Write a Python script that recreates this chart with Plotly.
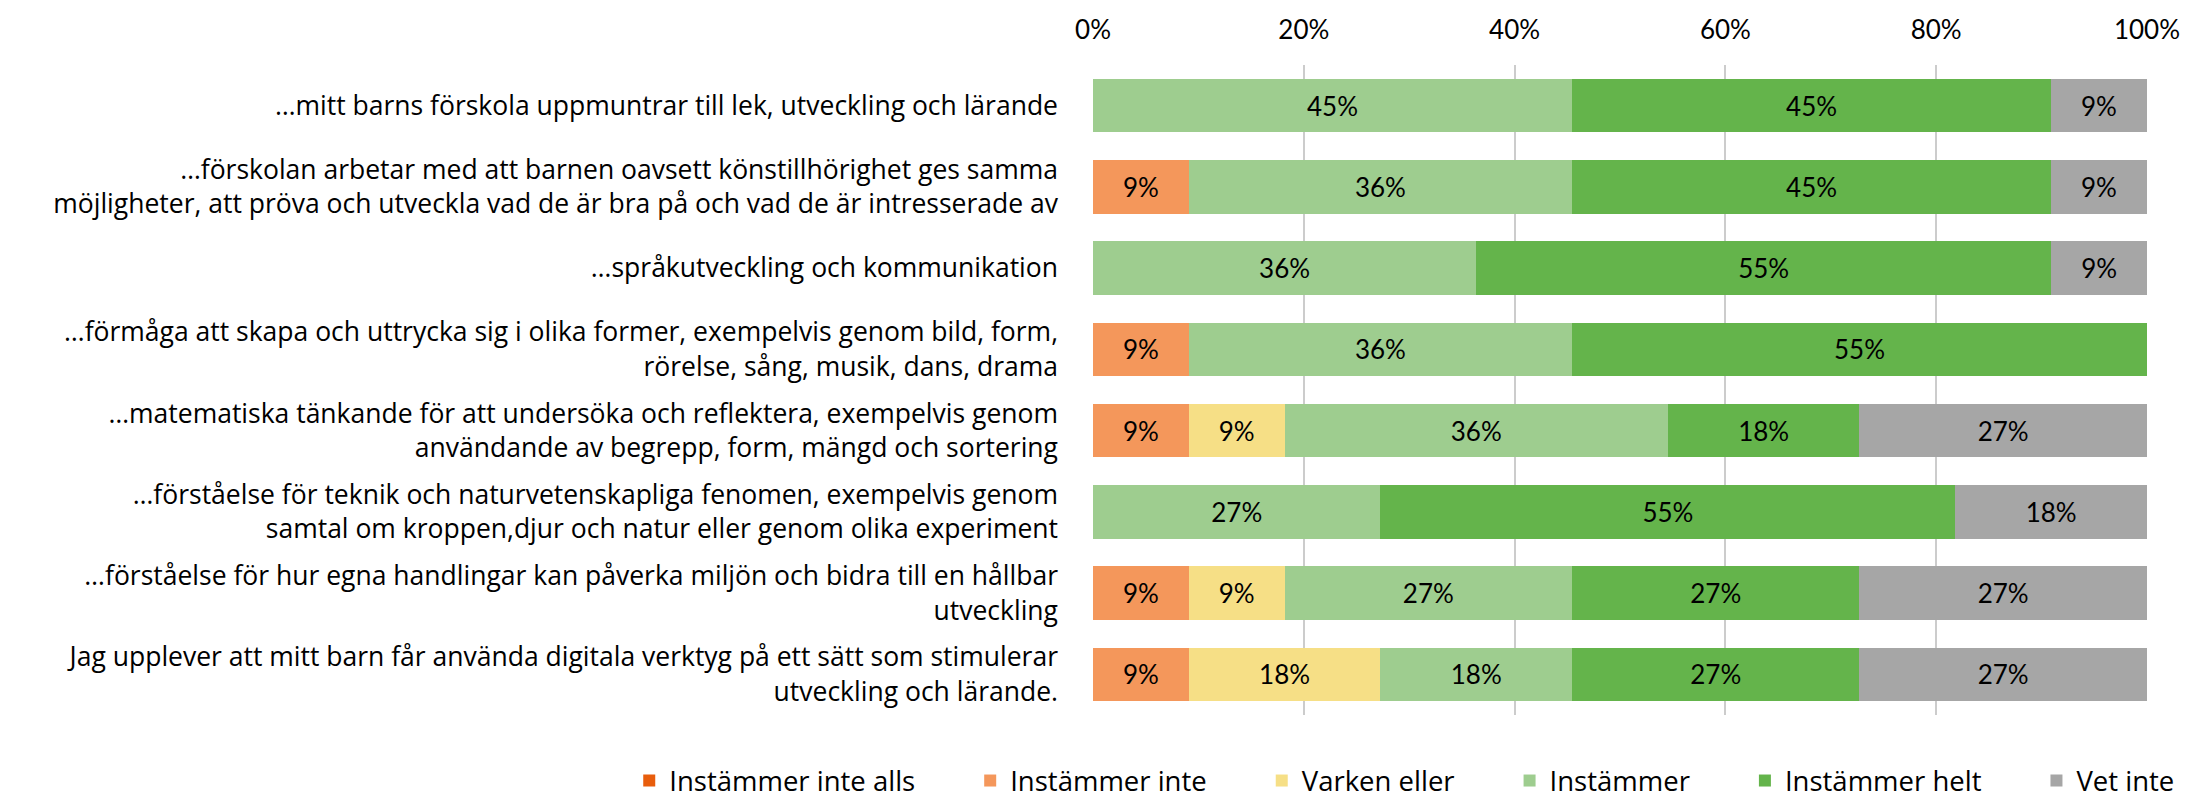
import plotly.graph_objects as go

categories = [
    "…mitt barns förskola uppmuntrar till lek, utveckling och lärande",
    "…förskolan arbetar med att barnen oavsett könstillhörighet ges samma<br>möjligheter, att pröva och utveckla vad de är bra på och vad de är intresserade av",
    "…språkutveckling och kommunikation",
    "…förmåga att skapa och uttrycka sig i olika former, exempelvis genom bild, form,<br>rörelse, sång, musik, dans, drama",
    "…matematiska tänkande för att undersöka och reflektera, exempelvis genom<br>användande av begrepp, form, mängd och sortering",
    "…förståelse för teknik och naturvetenskapliga fenomen, exempelvis genom<br>samtal om kroppen,djur och natur eller genom olika experiment",
    "…förståelse för hur egna handlingar kan påverka miljön och bidra till en hållbar<br>utveckling",
    "Jag upplever att mitt barn får använda digitala verktyg på ett sätt som stimulerar<br>utveckling och lärande.",
]

instammer_inte_alls = [0, 0, 0, 0, 0, 0, 0, 0]
instammer_inte = [0, 9.09, 0, 9.09, 9.09, 0, 9.09, 9.09]
varken_eller = [0, 0, 0, 0, 9.09, 0, 9.09, 18.18]
instammer = [45.45, 36.36, 36.36, 36.36, 36.36, 27.27, 27.27, 18.18]
instammer_helt = [45.45, 45.45, 54.55, 54.55, 18.18, 54.55, 27.27, 27.27]
vet_inte = [9.09, 9.09, 9.09, 0, 27.27, 18.18, 27.27, 27.27]

series = [
    ("Instämmer inte alls", instammer_inte_alls, "#E85D0C"),
    ("Instämmer inte", instammer_inte, "#F4975B"),
    ("Varken eller", varken_eller, "#F6DF86"),
    ("Instämmer", instammer, "#9ECD8F"),
    ("Instämmer helt", instammer_helt, "#64B44B"),
    ("Vet inte", vet_inte, "#A6A6A6"),
]

tick_vals = [0, 20, 40, 60, 80, 100]
tick_text = ["0%", "20%", "40%", "60%", "80%", "100%"]

NUMFONT = "Lato"
TXTFONT = "Open Sans"
PAD = "\u00a0" * 7

fig = go.Figure()
for i, (name, vals, color) in enumerate(series):
    fig.add_trace(go.Bar(
        y=categories, x=vals, name=name + (PAD if i < len(series) - 1 else ""),
        orientation="h",
        marker=dict(color=color, line=dict(width=0)),
        text=[f"{round(v)}%" if v > 0 else "" for v in vals],
        textposition="inside", insidetextanchor="middle",
        textfont=dict(color="black", size=26, family=NUMFONT),
        textangle=0,
    ))

fig.update_layout(
    barmode="stack", bargap=0.34,
    width=2200, height=804,
    margin=dict(l=1093, r=53, t=65, b=89, autoexpand=False),
    paper_bgcolor="white", plot_bgcolor="white",
    font=dict(family=TXTFONT, size=26, color="black"),
    uniformtext=dict(mode="show", minsize=20),
    xaxis=dict(side="top", range=[0, 100], tickvals=tick_vals, ticktext=tick_text,
               showgrid=True, gridcolor="#CCCCCC", gridwidth=1.5, zeroline=False,
               showline=False, ticks="", ticklabelstandoff=20,
               tickfont=dict(size=26, family=NUMFONT, color="black")),
    yaxis=dict(autorange="reversed", showgrid=False, showline=False, ticks="",
               ticklabelstandoff=34, tickfont=dict(size=26.5, family=TXTFONT, color="black")),
    legend=dict(orientation="h", xref="paper", yref="paper",
                x=-0.44, xanchor="left", y=-0.101, yanchor="middle",
                font=dict(size=27.5, family=TXTFONT), traceorder="normal",
                itemwidth=30),
    showlegend=True,
)

fig.write_html("out.html")
